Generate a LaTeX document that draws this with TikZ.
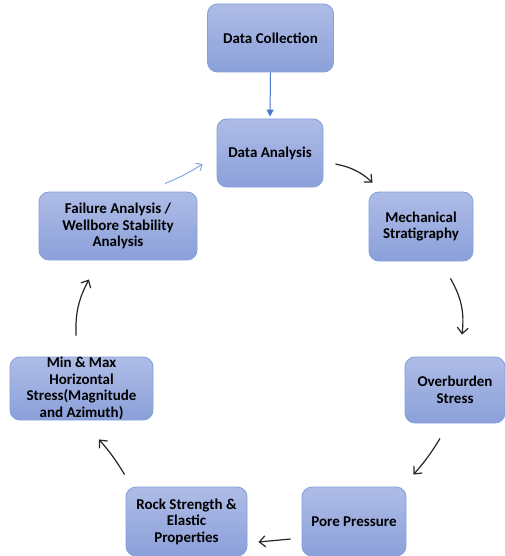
\documentclass[tikz,border=0pt]{standalone}
\usepackage{fontspec}
\setmainfont{Carlito}
\usetikzlibrary{arrows.meta,calc}
\definecolor{boxtop}{HTML}{AEBCE6}
\definecolor{boxbot}{HTML}{8BA0DA}
\definecolor{boxedge}{HTML}{85A0DA}
\definecolor{linkblue}{HTML}{4A78C8}
\definecolor{lightlink}{HTML}{7FA2DC}
\tikzset{
  stepbox/.style={rectangle, rounded corners=10pt, draw=boxedge, line width=0.9pt,
    top color=boxtop, bottom color=boxbot, align=center, inner sep=0pt,
    font=\fontsize{15}{16.5}\selectfont\bfseries, text=black},
  flow/.style={line width=1.2pt, black!85, -{Straight Barb[length=6pt,width=11pt,line width=1.2pt]}},
}
\begin{document}
\begin{tikzpicture}[x=1pt,y=-1pt]
\useasboundingbox (0,0) rectangle (505,556);
\fill[white] (0,0) rectangle (505,556);
\node[stepbox, minimum width=126pt, minimum height=68pt] (dc) at (270.5,38) {Data Collection};
\node[stepbox, minimum width=106pt, minimum height=68pt] (da) at (270,153) {Data Analysis};
\node[stepbox, minimum width=158pt, minimum height=68pt] (fa) at (118,226) {Failure Analysis /\\Wellbore Stability\\Analysis};
\node[stepbox, minimum width=104pt, minimum height=69pt] (ms) at (421,226.5) {Mechanical\\Stratigraphy};
\node[stepbox, minimum width=143pt, minimum height=63pt] (mm) at (81.5,388.5) {Min \& Max\\Horizontal\\Stress(Magnitude\\and Azimuth)};
\node[stepbox, minimum width=100pt, minimum height=66pt] (ob) at (455,390) {Overburden\\Stress};
\node[stepbox, minimum width=121pt, minimum height=69pt] (rs) at (186.5,521.5) {Rock Strength \&\\Elastic\\Properties};
\node[stepbox, minimum width=104pt, minimum height=69pt] (pp) at (354,521.5) {Pore Pressure};

\draw[linkblue, line width=1pt, -{Triangle[length=7pt,width=7pt]}, shorten >=2pt] (dc.south) -- (da.north);
\draw[flow] ([shift={(12,11)}]da.east) to[bend left=15] ([shift={(4,-9)}]ms.north west);
\draw[flow] ([shift={(-23,17)}]ms.south east) to[bend left=18] ([shift={(7,-22)}]ob.north);
\draw[flow] ([shift={(-15,15)}]ob.south) to[bend left=5] ([shift={(7,-12)}]pp.north east);
\draw[flow] ([shift={(-11,17.5)}]pp.west) -- ([shift={(11,20.5)}]rs.east);
\draw[flow] ([shift={(-1,-12)}]rs.north west) to[bend right=5] ([shift={(17.5,19)}]mm.south);
\draw[flow] ([shift={(-5.5,-21)}]mm.north) to[bend left=15] ([shift={(-29,19)}]fa.south);
\draw[lightlink, line width=0.9pt, -{Straight Barb[length=5pt,width=9pt,line width=0.9pt]}] ([shift={(47,-8)}]fa.north) to[bend right=5] ([shift={(-14,11)}]da.west);
\end{tikzpicture}
\end{document}
